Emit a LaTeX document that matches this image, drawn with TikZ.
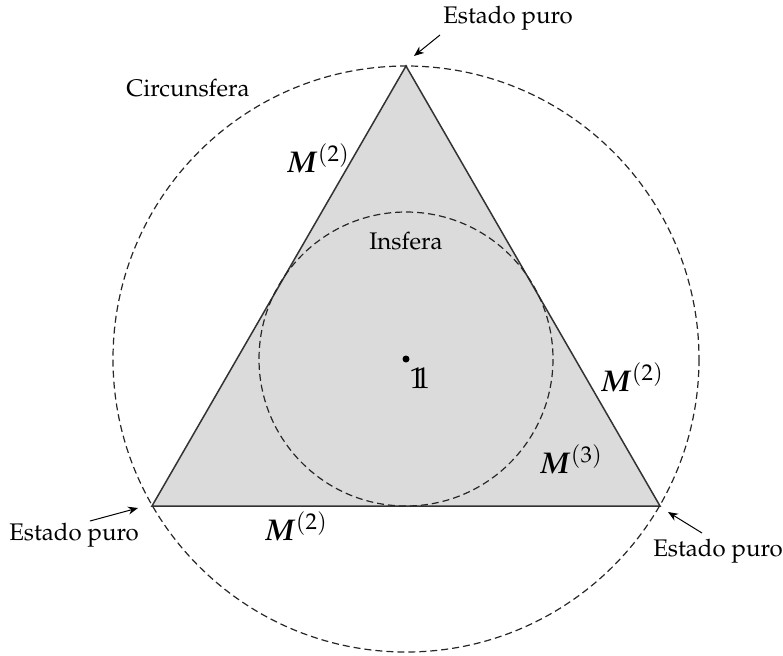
\documentclass[tikz,border=0pt]{standalone}
\usepackage[T1]{fontenc}
\usepackage{mathpazo}
\usepackage{bm}
\usetikzlibrary{arrows.meta}
\tikzset{
  lbl/.style={font=\fontsize{12}{14}\selectfont, inner sep=0pt},
  mlbl/.style={font=\fontsize{15}{18}\selectfont, inner sep=0pt},
  ring/.style={draw=black!85, line width=0.6pt, dash pattern=on 3.5pt off 2pt},
  ptr/.style={-{Stealth[length=5pt,width=4pt]}, line width=0.5pt},
}
\begin{document}
\begin{tikzpicture}[x=0.5pt,y=-0.5pt]
\useasboundingbox (0,0) rectangle (783,655);
\coordinate (T) at (406,66);
\coordinate (L) at (152,506);
\coordinate (R) at (660,506);
\coordinate (O) at (406,359);
\fill[black!14] (T) -- (L) -- (R) -- cycle;
\draw[black!80, line width=0.75pt, line join=miter] (T) -- (L) -- (R) -- cycle;
\draw[ring] (O) circle[radius=293];
\draw[ring] (O) circle[radius=147];
\fill (O) circle[radius=3.5];
\node[mlbl] (one) at (420,378) {$\mathrm{1\mkern-5.5mu 1}$};
\node[lbl] (ept) at (508,18) {Estado puro};
\node[lbl] (epl) at (74,535) {Estado puro};
\node[lbl] (epr) at (718,551) {Estado puro};
\node[lbl] (circ) at (188,88) {Circunsfera};
\node[lbl] (ins) at (406,241) {Insfera};
\node[mlbl] (m1) at (318,158) {$\bm{M}^{(2)}$};
\node[mlbl] (m2) at (632,377) {$\bm{M}^{(2)}$};
\node[mlbl] (m3) at (296,526) {$\bm{M}^{(2)}$};
\node[mlbl] (m4) at (571,459) {$\bm{M}^{(3)}$};
\coordinate (a1) at (440,35);
\coordinate (a2) at (90,521);
\coordinate (a3) at (702,533);
\draw[ptr] (a1) -- (414,56);
\draw[ptr] (a2) -- (138,508);
\draw[ptr] (a3) -- (668,512);
\end{tikzpicture}
\end{document}
